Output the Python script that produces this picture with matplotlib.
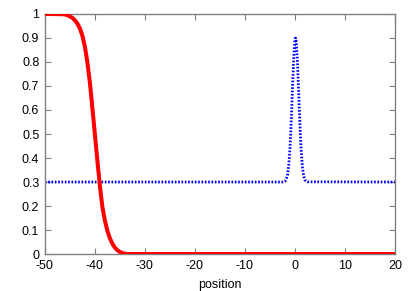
import matplotlib
matplotlib.use("Agg")
import matplotlib.pyplot as plt

# red front
red_x = [-50, -46.5, -46, -45.5, -45, -44.5, -44, -43.5, -43, -42.5, -42, -41.5, -41,
         -40.5, -40, -39.5, -39, -38.5, -38, -37.5, -37, -36.5, -36, -35.5, -35,
         -34.5, -34, -33.5, 20]
red_y = [1.0, 0.999, 0.998, 0.995, 0.99, 0.984, 0.974, 0.96, 0.94, 0.91, 0.865, 0.80, 0.715,
         0.61, 0.50, 0.39, 0.285, 0.197, 0.14, 0.097, 0.066, 0.043, 0.027, 0.016, 0.009,
         0.004, 0.0015, 0.0, 0.0]

# blue pulse
blue_x = [-50, -2.5, -2.0, -1.75, -1.5, -1.25, -1.0, -0.75, -0.5, -0.25, 0, 0.1,
          0.25, 0.5, 0.75, 1.0, 1.25, 1.5, 1.75, 2.0, 2.5, 20]
blue_y = [0.3, 0.3, 0.303, 0.312, 0.329, 0.369, 0.443, 0.555, 0.692, 0.819, 0.893, 0.9,
          0.884, 0.796, 0.664, 0.530, 0.425, 0.359, 0.324, 0.308, 0.301, 0.3]

x_ticks = [-50, -40, -30, -20, -10, 0, 10, 20]
y_ticks = [0, 0.1, 0.2, 0.3, 0.4, 0.5, 0.6, 0.7, 0.8, 0.9, 1]
y_labels = ["0", "0.1", "0.2", "0.3", "0.4", "0.5", "0.6", "0.7", "0.8", "0.9", "1"]

plt.rcParams['font.family'] = ['Liberation Sans', 'DejaVu Sans']
plt.rcParams['axes.unicode_minus'] = False

fig = plt.figure(figsize=(4.15, 2.91), dpi=100)
ax = fig.add_axes([0.108, 0.127, 0.844, 0.825])

ax.plot(red_x, red_y, color='#ff0000', lw=2.9, solid_capstyle='butt',
        solid_joinstyle='round', zorder=3)
ax.plot(blue_x, blue_y, color='#0000ff', lw=2.0, linestyle=(0, (0.6, 0.6)), zorder=2)

ax.set_xlim(-50, 20)
ax.set_ylim(0, 1)
ax.set_xticks(x_ticks)
ax.set_yticks(y_ticks)
ax.set_yticklabels(y_labels)
ax.set_xlabel('position', fontsize=9, labelpad=5)

ax.tick_params(direction='in', length=4, width=0.8, color='#808080',
               top=True, right=True, labelsize=9, pad=4)
for s in ax.spines.values():
    s.set_color('#808080')
    s.set_linewidth(1.0)

fig.savefig('out.png', dpi=100)
